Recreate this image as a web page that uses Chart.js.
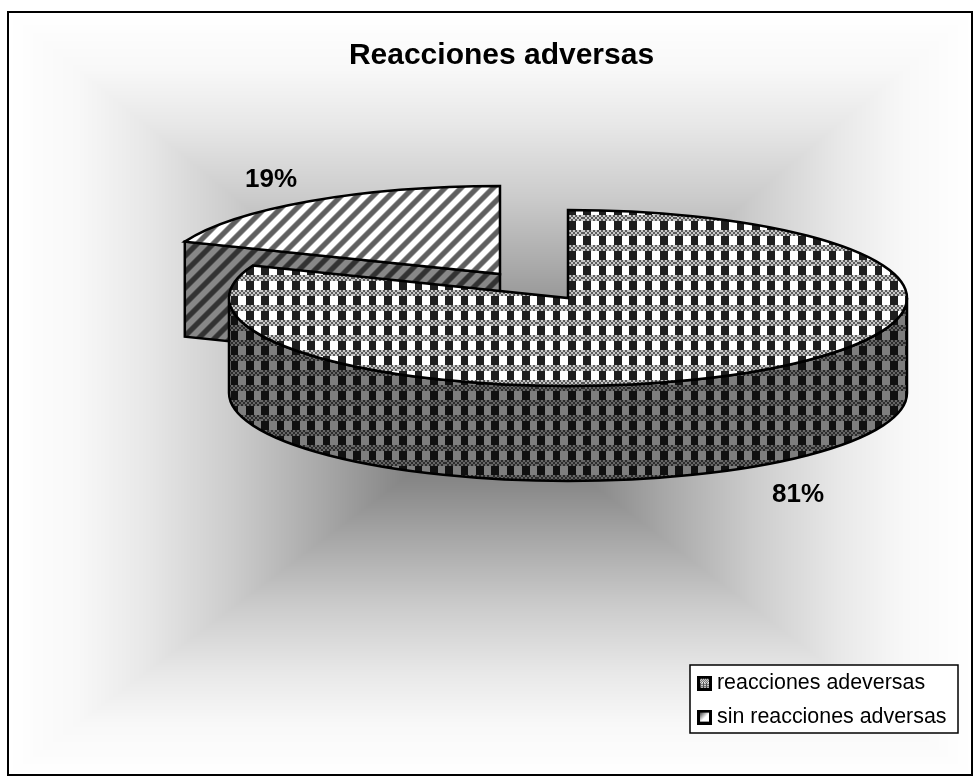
<!DOCTYPE html>
<html>
<head>
<meta charset="utf-8">
<title>Reacciones adversas</title>
<script src="https://cdn.jsdelivr.net/npm/chart.js@4"></script>
<style>
    html, body { margin: 0; padding: 0; background: #fff; }
    canvas { display: block; }
</style>
</head>
<body>
<canvas id="chart" width="980" height="784"></canvas>
<script>
// Chart data
const categories = ["reacciones adeversas", "sin reacciones adversas"];
const values = [81, 19];
const chartTitle = "Reacciones adversas";

// Look of the tilted pie
const pieCenterX = 568;
const pieCenterY = 298;
const tilt = 88 / 339;
const depth = 95;
const explode = 121;
const labelSpots = [[798, 495], [271, 180]];

const frame = { left: 8, top: 12, right: 972, bottom: 775 };
const legendBox = { left: 690, top: 665, right: 958, bottom: 733 };
const glowCenter = { x: 495, y: 410 };
const glowStops = [[0, 100], [0.2, 136], [0.356, 168], [0.54, 204], [0.72, 232], [0.858, 248], [1, 255]];

function makeTile(w, h, paint) {
    const tile = document.createElement("canvas");
    tile.width = w;
    tile.height = h;
    paint(tile.getContext("2d"));
    return tile;
}

// dark and light squares, split by bands of fine dither
function checkTile(light, dark, dith1, dith2) {
    return makeTile(46, 15, (c) => {
        for (let y = 0; y < 15; y += 1) {
            for (let x = 0; x < 46; x += 1) {
                if (y < 6) {
                    c.fillStyle = (Math.floor(x / 2) + Math.floor(y / 2)) % 2 ? dith1 : dith2;
                } else {
                    c.fillStyle = (x % (46 / 3)) < 7.5 ? dark : light;
                }
                c.fillRect(x, y, 1, 1);
            }
        }
    });
}

// soft diagonal stripes going up to the right
function stripeTile(light, dark) {
    return makeTile(16, 16, (c) => {
        for (let y = 0; y < 16; y += 1) {
            for (let x = 0; x < 16; x += 1) {
                const wave = 0.5 + 0.5 * Math.cos((x + y) / 16 * 2 * Math.PI);
                const t = Math.min(1, Math.max(0, (wave - 0.25) * 2.5));
                const v = Math.round(dark + (light - dark) * t);
                c.fillStyle = `rgb(${v},${v},${v})`;
                c.fillRect(x, y, 1, 1);
            }
        }
    });
}

const ctx = document.getElementById("chart").getContext("2d");

const checkTop = ctx.createPattern(checkTile("#ffffff", "#1e1e1e", "#5c5c5c", "#c8c8c8"), "repeat");
const checkWall = ctx.createPattern(checkTile("#7e7e7e", "#101010", "#2c2c2c", "#666666"), "repeat");
const stripeTop = ctx.createPattern(stripeTile(255, 95), "repeat");
const stripeWall = ctx.createPattern(stripeTile(135, 50), "repeat");

checkWall.setTransform(new DOMMatrix().translate(31, 10));

const swatchCheck = makeTile(15, 15, (c) => {
    c.fillStyle = "#000";
    c.fillRect(0, 0, 15, 15);
    for (let y = 3; y < 12; y += 1) {
        for (let x = 3; x < 12; x += 1) {
            const on = y < 7 ? (x + y) % 2 : (x % 3 === 0 ? 0 : 1) && y % 2;
            c.fillStyle = on ? "#eee" : "#555";
            c.fillRect(x, y, 1, 1);
        }
    }
});
const swatchFade = makeTile(15, 15, (c) => {
    c.fillStyle = "#000";
    c.fillRect(0, 0, 15, 15);
    const fade = c.createLinearGradient(3, 3, 12, 12);
    fade.addColorStop(0, "#444");
    fade.addColorStop(0.55, "#fff");
    c.fillStyle = fade;
    c.fillRect(3, 3, 9, 9);
});

function glowAt(t) {
    for (let i = 1; i < glowStops.length; i += 1) {
        if (t <= glowStops[i][0]) {
            const a = glowStops[i - 1];
            const b = glowStops[i];
            return a[1] + (b[1] - a[1]) * (t - a[0]) / (b[0] - a[0]);
        }
    }
    return 255;
}

const backdropPlugin = {
    id: "backdrop",
    beforeDraw(chart) {
        const c = chart.ctx;
        const w = frame.right - frame.left;
        const h = frame.bottom - frame.top;
        const img = c.createImageData(w, h);
        const cx = glowCenter.x - frame.left;
        const cy = glowCenter.y - frame.top;
        // darkest in the middle, fading out to the frame like a pyramid
        for (let y = 0; y < h; y += 1) {
            for (let x = 0; x < w; x += 1) {
                const tx = x < cx ? (cx - x) / cx : (x - cx) / (w - cx);
                const ty = y < cy ? (cy - y) / cy : (y - cy) / (h - cy);
                const v = glowAt(Math.max(tx, ty));
                const i = (y * w + x) * 4;
                img.data[i] = v;
                img.data[i + 1] = v;
                img.data[i + 2] = v;
                img.data[i + 3] = 255;
            }
        }
        c.putImageData(img, frame.left, frame.top);
        c.save();
        c.strokeStyle = "#000";
        c.lineWidth = 2;
        c.strokeRect(frame.left, frame.top, w, h);
        c.fillStyle = "#fff";
        c.fillRect(legendBox.left, legendBox.top, legendBox.right - legendBox.left, legendBox.bottom - legendBox.top);
        c.lineWidth = 1.5;
        c.strokeRect(legendBox.left, legendBox.top, legendBox.right - legendBox.left, legendBox.bottom - legendBox.top);
        c.restore();
    }
};

function drawSlice(chart, arc, shiftX, shiftY, wall) {
    const c = chart.ctx;
    const cx = pieCenterX + shiftX;
    const cy = pieCenterY + shiftY;
    const r = arc.outerRadius;
    const a0 = arc.startAngle;
    const a1 = arc.endAngle;

    // side wall first
    c.save();
    c.lineWidth = 2.5;
    c.strokeStyle = "#000";
    c.lineJoin = "miter";
    c.fillStyle = wall;
    const from = Math.max(a0, 0);
    const to = Math.min(a1, Math.PI);
    c.beginPath();
    if (to > from) {
        c.ellipse(cx, cy, r, r * tilt, 0, from, to);
        c.ellipse(cx, cy + depth, r, r * tilt, 0, to, from, true);
    } else {
        // only the cut face shows on the slice that was pulled away
        const edgeX = cx + Math.cos(a0) * r;
        const edgeY = cy + Math.sin(a0) * r * tilt;
        c.moveTo(cx, cy);
        c.lineTo(edgeX, edgeY);
        c.lineTo(edgeX, edgeY + depth);
        c.lineTo(cx, cy + depth);
    }
    c.closePath();
    c.fill();
    c.stroke();
    c.restore();

    // the tops get drawn squashed, so stretch the patterns back and line them up
    checkTop.setTransform(new DOMMatrix().translate(31 - cx + arc.x, (5 - cy) / tilt + arc.y).scale(1, 1 / tilt));
    stripeTop.setTransform(new DOMMatrix().translate(arc.x - cx, arc.y - cy / tilt).scale(1, 1 / tilt));

    c.save();
    c.translate(cx, cy);
    c.scale(1, tilt);
    c.translate(-arc.x, -arc.y);
    arc.draw(c);
    c.beginPath();
    c.moveTo(arc.x, arc.y);
    c.arc(arc.x, arc.y, r, a0, a1);
    c.closePath();
    c.restore();
    c.lineWidth = 2.5;
    c.strokeStyle = "#000";
    c.lineJoin = "miter";
    c.stroke();
}

const tiltedPiePlugin = {
    id: "tiltedPie",
    afterLayout(chart) {
        const lg = chart.legend;
        lg.left = 690.2;
        lg.right = 970;
        lg.top = 660;
        lg.bottom = 760;
    },
    beforeDatasetsDraw(chart) {
        const arcs = chart.getDatasetMeta(0).data;
        const mid = (arcs[1].startAngle + arcs[1].endAngle) / 2;
        drawSlice(chart, arcs[1], Math.cos(mid) * explode, Math.sin(mid) * explode * tilt + 2, stripeWall);
        drawSlice(chart, arcs[0], 0, 0, checkWall);
        return false;
    },
    afterDraw(chart) {
        const c = chart.ctx;
        const total = values.reduce((acc, curr) => acc + curr, 0);
        c.save();
        c.font = "bold 26px 'Liberation Sans'";
        c.fillStyle = "#000";
        c.textAlign = "center";
        c.textBaseline = "middle";
        values.forEach((v, i) => {
            c.fillText(Math.round(v / total * 100) + "%", labelSpots[i][0], labelSpots[i][1]);
        });
        c.restore();
    }
};

new Chart(ctx, {
    type: "pie",
    data: {
        labels: categories,
        datasets: [{
            data: values,
            backgroundColor: [checkTop, stripeTop],
            borderWidth: 0
        }]
    },
    options: {
        responsive: false,
        animation: false,
        events: [],
        radius: 339,
        layout: { padding: { left: 23 } },
        plugins: {
            tooltip: { enabled: false },
            title: {
                display: true,
                text: chartTitle,
                color: "#000",
                font: { family: "'Liberation Sans'", size: 30, weight: "bold" },
                padding: { top: 38, bottom: 0 }
            },
            legend: {
                position: "right",
                align: "start",
                labels: {
                    usePointStyle: true,
                    pointStyleWidth: 3.6,
                    padding: 12.5,
                    color: "#000",
                    font: { family: "'Liberation Sans'", size: 21.4 },
                    generateLabels() {
                        return categories.map((name, i) => ({
                            text: name,
                            pointStyle: i === 0 ? swatchCheck : swatchFade,
                            index: i
                        }));
                    }
                }
            }
        }
    },
    plugins: [backdropPlugin, tiltedPiePlugin]
});
</script>
</body>
</html>
